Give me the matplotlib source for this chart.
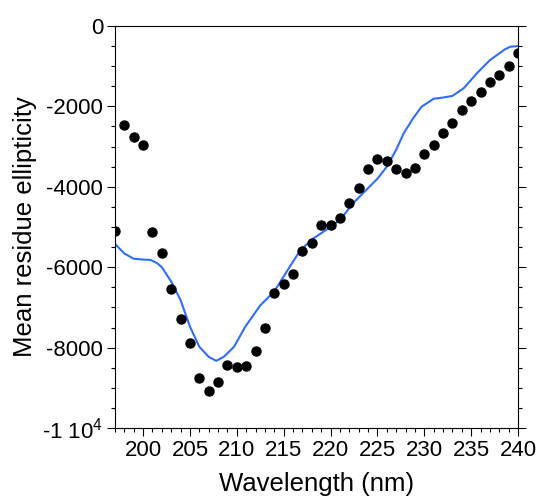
import matplotlib
matplotlib.use("Agg")
import matplotlib.pyplot as plt
from matplotlib.ticker import MultipleLocator

plt.rcParams['font.family'] = ['Liberation Sans', 'DejaVu Sans']
plt.rcParams['axes.unicode_minus'] = False
plt.rcParams['mathtext.fontset'] = 'custom'
plt.rcParams['mathtext.rm'] = 'Liberation Sans'

# Measured points (dots)
wl_points = [197, 198, 199, 200, 201, 202, 203, 204, 205, 206, 207, 208, 209, 210,
             211, 212, 213, 214, 215, 216, 217, 218, 219, 220, 221, 222, 223, 224,
             225, 226, 227, 228, 229, 230, 231, 232, 233, 234, 235, 236, 237, 238,
             239, 240]
ell_points = [-5100, -2460, -2760, -2960, -5120, -5650, -6540, -7290, -7890, -8760,
              -9080, -8860, -8430, -8480, -8460, -8080, -7510, -6640, -6420, -6170,
              -5600, -5400, -4950, -4950, -4780, -4400, -4030, -3560, -3310, -3360,
              -3560, -3660, -3520, -3180, -2950, -2650, -2420, -2080, -1870, -1650,
              -1400, -1230, -1000, -670]

# Fitted curve (blue line)
wl_fit = [197.0, 198.0, 199.0, 200.0, 200.8, 201.5, 202.0, 203.0, 204.0, 205.0,
          206.0, 207.0, 207.8, 208.6, 209.7, 210.9, 212.5, 214.0, 215.7, 216.8,
          218.2, 219.6, 221.0, 222.4, 223.8, 225.0, 226.0, 227.0, 227.8, 228.8,
          229.7, 231.0, 232.0, 233.0, 234.2, 235.6, 237.0, 238.6, 239.2, 240.0]
ell_fit = [-5420, -5660, -5790, -5810, -5820, -5900, -6000, -6360, -6820, -7480,
           -7980, -8230, -8330, -8230, -7980, -7480, -6950, -6600, -5970, -5570,
           -5280, -5060, -4830, -4410, -4080, -3800, -3500, -3080, -2670, -2300,
           -2010, -1810, -1780, -1740, -1550, -1180, -850, -580, -515, -500]

y_ticks = [0, -2000, -4000, -6000, -8000, -10000]
y_ticklabels = ['0', '-2000', '-4000', '-6000', '-8000', r'-1 10$^{4}$']
x_ticks = [200, 205, 210, 215, 220, 225, 230, 235, 240]

fig = plt.figure(figsize=(5.38, 4.98), dpi=100)
ax = fig.add_axes([115/538, 1 - 428/498, (518 - 115)/538, (428 - 26)/498])

ax.plot(wl_fit, ell_fit, color='#2f6ef5', lw=1.5, zorder=2,
        solid_joinstyle='round')
ax.plot(wl_points, ell_points, 'o', color='black', ms=6.5, zorder=3)

ax.set_xlim(197, 240)
ax.set_ylim(-10000, 0)

ax.set_xticks(x_ticks)
ax.set_xticklabels([str(v) for v in x_ticks])
ax.xaxis.set_minor_locator(MultipleLocator(1))
ax.set_yticks(y_ticks)
ax.set_yticklabels(y_ticklabels)
ax.yaxis.set_minor_locator(MultipleLocator(500))

ax.tick_params(axis='both', which='major', direction='out', length=5.5, width=0.8,
               labelsize=16, pad=3)
ax.tick_params(axis='both', which='minor', direction='out', length=3, width=0.8)
ax.tick_params(axis='y', which='both', left=True, right=True, labelright=False)
ax.tick_params(axis='x', which='both', top=False, bottom=True)

for s in ax.spines.values():
    s.set_linewidth(0.8)

ax.set_xlabel('Wavelength (nm)', fontsize=18.5, labelpad=8)
ax.set_ylabel('Mean residue ellipticity', fontsize=18.5, labelpad=4)

fig.savefig('out.png', dpi=100)
